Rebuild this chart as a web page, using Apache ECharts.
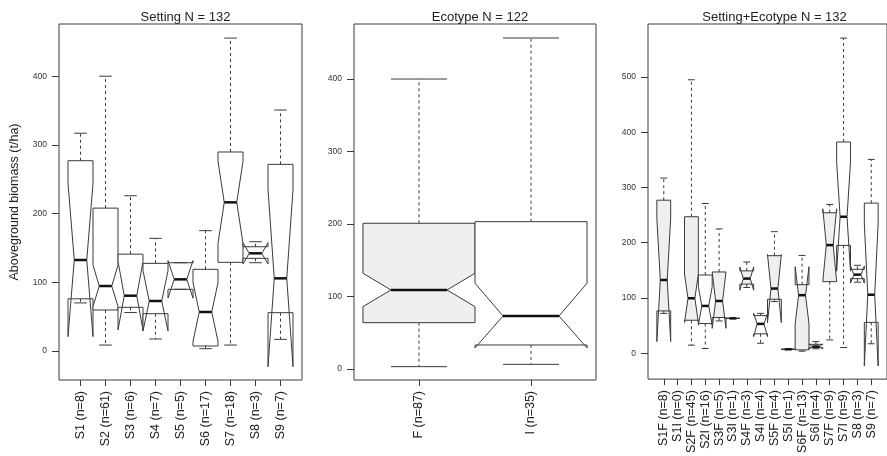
<!DOCTYPE html>
<html>
<head>
<meta charset="utf-8">
<script src="https://cdn.jsdelivr.net/npm/echarts@6/dist/echarts.min.js"></script>
<style>
  html, body { margin: 0; padding: 0; background: #ffffff; }
  #chart { width: 887px; height: 456px; }
</style>
</head>
<body>
<div id="chart"></div>
<script>
// ---------- Panel 1: by setting ----------
const settingNames = ['S1', 'S2', 'S3', 'S4', 'S5', 'S6', 'S7', 'S8', 'S9'];
const settingCounts = [8, 61, 6, 7, 5, 17, 18, 3, 7];
// [lower whisker, Q1, median, Q3, upper whisker]
const settingBoxes = [
  [70, 76, 132.5, 277, 317],
  [8.7, 59.7, 94.6, 208, 400],
  [56, 63.6, 80.5, 141, 226],
  [17.5, 54.3, 72.8, 127.6, 164],
  [89.8, 89.8, 104.3, 128.5, 128.5],
  [3.4, 7.3, 56.8, 118.9, 175.2],
  [8.7, 129.1, 216.4, 289.7, 455.5],
  [128.5, 134.9, 142.2, 151.8, 159.1],
  [17, 55.8, 105.8, 271.7, 350.8]
];
// notch limits [lower, upper]
const settingNotches = [
  [21, 244], [65, 125], [30.5, 130.5], [29, 117], [77, 131.6],
  [14, 99.6], [156.6, 276.2], [126.8, 157.6], [-23, 235]
];

// ---------- Panel 2: by ecotype ----------
const ecotypeNames = ['F', 'I'];
const ecotypeCounts = [87, 35];
const ecotypeBoxes = [
  [3.2, 63.9, 109, 201, 400],
  [6.4, 33.1, 73.1, 203.2, 456.6]
];
const ecotypeNotches = [[86, 132], [29, 118.3]];

// ---------- Panel 3: by setting + ecotype ----------
const comboNames = ['S1F', 'S1I', 'S2F', 'S2I', 'S3F', 'S3I', 'S4F', 'S4I',
                    'S5F', 'S5I', 'S6F', 'S6I', 'S7F', 'S7I', 'S8', 'S9'];
const comboCounts = [8, 0, 45, 16, 5, 1, 3, 4, 4, 1, 13, 4, 9, 9, 3, 7];
const comboBoxes = [
  [72, 76.5, 132.5, 277, 317],
  null,
  [14.5, 59.6, 99.4, 247, 495],
  [8.4, 53.6, 85.5, 141.5, 271],
  [58.4, 64.5, 94.5, 147, 225],
  [63, 63, 63, 63, 63],
  [119, 125, 135, 149, 165],
  [18, 35, 53, 68, 72],
  [93.4, 97.6, 117, 176.5, 220],
  [7, 7, 7, 7, 7],
  [3.6, 6, 105, 124, 177],
  [8, 10, 12, 16, 21],
  [24, 129.5, 195.7, 254.2, 269.2],
  [10.2, 195.1, 247, 382.4, 570.4],
  [128.5, 134.9, 142.2, 151.8, 159.1],
  [17, 55.8, 105.8, 271.7, 350.8]
];
const comboNotches = [
  [21, 244], null, [55.3, 143.5], [50.8, 120.2], [45, 147], [63, 63],
  [114, 156], [30, 72], [55.3, 178.5], [7, 7], [53, 156.5], [7.5, 16.5],
  [130, 261.4], [148.4, 345.6], [126.8, 157.6], [-23, 235]
];

const FONT = '"Liberation Sans", Arial, Helvetica, sans-serif';
const FILL_F = '#efefef';
const FILL_I = '#ffffff';

// Rows: [x, lo, q1, med, q3, hi, notchLo, notchHi, shaded]
function buildRows(boxes, notches, shadeFn) {
  const rows = [];
  boxes.forEach((b, i) => {
    if (!b) return;
    rows.push([i + 1, ...b, ...notches[i], shadeFn(i) ? 1 : 0]);
  });
  return rows;
}

// Notched box in the style of R's bxp(): notches may reach past the hinges.
function renderNotchedBox(params, api) {
  const x = api.value(0);
  const lo = api.value(1), q1 = api.value(2), md = api.value(3),
        q3 = api.value(4), hi = api.value(5),
        c1 = api.value(6), c2 = api.value(7);
  const shaded = api.value(8) === 1;
  const w = 0.5, nf = 0.5, sw = 0.25;
  const p = (dx, v) => api.coord([x + dx, v]);
  const outline = [
    p(-w, q1), p(w, q1), p(w, c1), p(w * nf, md), p(w, c2),
    p(w, q3), p(-w, q3), p(-w, c2), p(-w * nf, md), p(-w, c1)
  ];
  const boxStroke = { stroke: '#3a3a3a', lineWidth: 1 };
  const dash = { stroke: '#3a3a3a', lineWidth: 1, lineDash: [3, 3] };
  const line = (a, b, style) => ({
    type: 'line',
    shape: { x1: a[0], y1: a[1], x2: b[0], y2: b[1] },
    style: style
  });
  return {
    type: 'group',
    children: [
      {
        type: 'polygon',
        shape: { points: outline },
        style: Object.assign({ fill: shaded ? FILL_F : FILL_I }, boxStroke)
      },
      line(p(0, q3), p(0, hi), dash),
      line(p(0, q1), p(0, lo), dash),
      line(p(-sw, hi), p(sw, hi), boxStroke),
      line(p(-sw, lo), p(sw, lo), boxStroke),
      line(p(-w * nf, md), p(w * nf, md), { stroke: '#111111', lineWidth: 2.5 })
    ]
  };
}

const panels = [
  {
    title: 'Setting N = 132',
    left: 59, width: 243,
    xMin: 0.14, xMax: 9.86,
    yMin: -42.2, yMax: 476,
    yTicks: [0, 100, 200, 300, 400],
    labels: settingNames.map((n, i) => n + ' (n=' + settingCounts[i] + ')'),
    rows: buildRows(settingBoxes, settingNotches, () => false)
  },
  {
    title: 'Ecotype N = 122',
    left: 354, width: 242,
    xMin: 0.42, xMax: 2.58,
    yMin: -15.2, yMax: 475.9,
    yTicks: [0, 100, 200, 300, 400],
    labels: ecotypeNames.map((n, i) => n + ' (n=' + ecotypeCounts[i] + ')'),
    rows: buildRows(ecotypeBoxes, ecotypeNotches, i => ecotypeNames[i] === 'F')
  },
  {
    title: 'Setting+Ecotype N = 132',
    left: 648, width: 243,
    xMin: -0.14, xMax: 17.14,
    yMin: -47, yMax: 596,
    yTicks: [0, 100, 200, 300, 400, 500],
    labels: comboNames.map((n, i) => n + ' (n=' + comboCounts[i] + ')'),
    rows: buildRows(comboBoxes, comboNotches, i => /F$/.test(comboNames[i]))
  }
];

const option = {
  backgroundColor: '#ffffff',
  animation: false,
  title: panels.map(pn => ({
    text: pn.title,
    left: pn.left + pn.width / 2,
    top: 6,
    textAlign: 'center',
    textStyle: { fontFamily: FONT, fontSize: 13, fontWeight: 'normal', color: '#222' }
  })),
  grid: panels.map(pn => ({
    left: pn.left, top: 24, width: pn.width, height: 356,
    show: true, borderColor: '#3a3a3a', borderWidth: 1, backgroundColor: 'transparent'
  })),
  xAxis: panels.map((pn, gi) => {
    const idx = pn.labels.map((_, i) => i + 1);
    return {
      gridIndex: gi,
      type: 'value',
      position: 'bottom',
      min: pn.xMin, max: pn.xMax,
      axisLine: { show: false, onZero: false },
      splitLine: { show: false },
      axisTick: { show: true, inside: false, length: 6, customValues: idx,
                  lineStyle: { color: '#3a3a3a', width: 1 } },
      axisLabel: {
        customValues: idx,
        rotate: 90,
        margin: 11,
        fontFamily: FONT, fontSize: 12.5, color: '#222',
        formatter: v => pn.labels[Math.round(v) - 1] || ''
      }
    };
  }),
  yAxis: panels.map((pn, gi) => ({
    gridIndex: gi,
    type: 'value',
    position: 'left',
    min: pn.yMin, max: pn.yMax,
    name: gi === 0 ? 'Aboveground biomass (t/ha)' : '',
    nameLocation: 'middle',
    nameGap: 38,
    nameTextStyle: { fontFamily: FONT, fontSize: 12.5, color: '#222' },
    axisLine: { show: false, onZero: false },
    splitLine: { show: false },
    axisTick: { show: true, inside: false, length: 7, customValues: pn.yTicks,
                lineStyle: { color: '#3a3a3a', width: 1 } },
    axisLabel: {
      customValues: pn.yTicks,
      margin: 12,
      fontFamily: FONT, fontSize: 8.5, color: '#333'
    }
  })),
  series: panels.map((pn, gi) => ({
    type: 'custom',
    xAxisIndex: gi,
    yAxisIndex: gi,
    renderItem: renderNotchedBox,
    encode: { x: 0, y: [1, 2, 3, 4, 5, 6, 7] },
    data: pn.rows,
    clip: false,
    silent: true
  }))
};

const chart = echarts.init(document.getElementById('chart'));
chart.setOption(option);
</script>
</body>
</html>
